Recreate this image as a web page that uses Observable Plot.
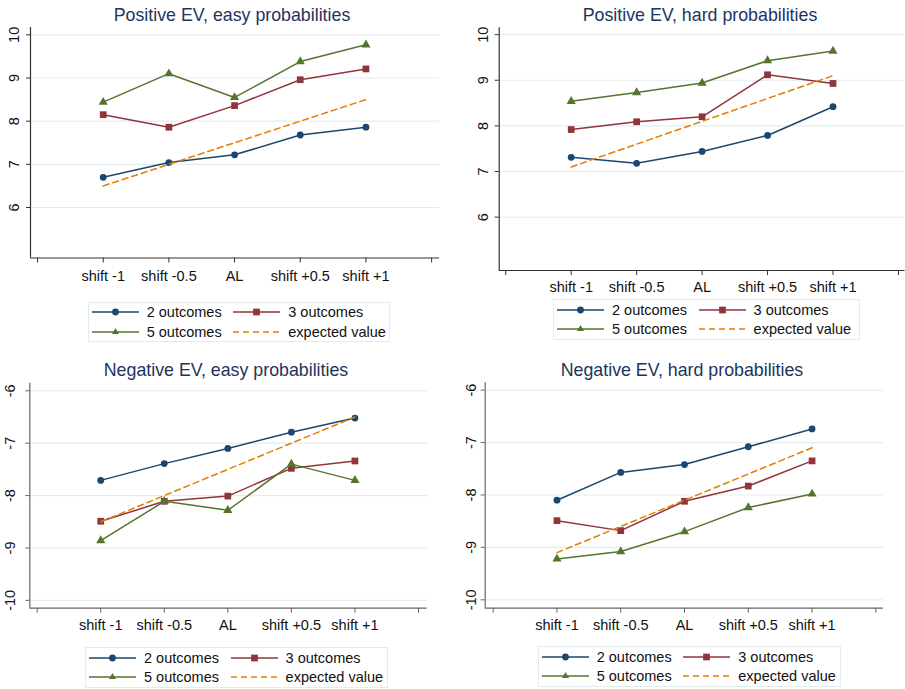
<!DOCTYPE html>
<html>
<head>
<meta charset="utf-8">
<script src="https://cdn.jsdelivr.net/npm/d3@7"></script>
<script src="https://cdn.jsdelivr.net/npm/@observablehq/plot@0.6"></script>
<style>
  html, body { margin: 0; padding: 0; background: #fff; }
  #chart { position: relative; width: 905px; height: 689px; background: #fff; font-family: "Liberation Sans", Arial, Helvetica, sans-serif; overflow: hidden; }
  .title { position: absolute; transform: translate(-50%, -50%); white-space: nowrap; font-size: 17.8px; color: #1c355e; }
  .legend { position: absolute; box-sizing: border-box; border: 1px solid #e3ecee; display: grid; grid-template-columns: 47px max-content 58.6px max-content; justify-content: start; align-items: center; padding: 0 3px; font-size: 14.5px; color: #111; }
  .legend svg { display: block; justify-self: end; }
  .legend .lbl { margin-left: 8px; white-space: nowrap; line-height: 18px; }
  .panel { position: absolute; }
  .panel svg { overflow: visible; }
</style>
</head>
<body>
<div id="chart"></div>
<script>
// ---------------- data ----------------
const categories = ["shift -1", "shift -0.5", "AL", "shift +0.5", "shift +1"];
const seriesNames = ["2 outcomes", "3 outcomes", "5 outcomes", "expected value"];
const panelTitles = ["Positive EV, easy probabilities", "Positive EV, hard probabilities",
                     "Negative EV, easy probabilities", "Negative EV, hard probabilities"];

const posEasy2  = [6.70, 7.04, 7.22, 7.68, 7.86];
const posEasy3  = [8.15, 7.86, 8.36, 8.96, 9.21];
const posEasy5  = [8.44, 9.10, 8.55, 9.38, 9.77];
const posEasyEV = [6.5, 7.0, 7.5, 8.0, 8.5];

const posHard2  = [7.31, 7.18, 7.44, 7.79, 8.42];
const posHard3  = [7.92, 8.09, 8.20, 9.12, 8.93];
const posHard5  = [8.54, 8.73, 8.94, 9.43, 9.64];
const posHardEV = [7.1, 7.6, 8.1, 8.6, 9.1];

const negEasy2  = [-7.71, -7.39, -7.10, -6.79, -6.52];
const negEasy3  = [-8.49, -8.11, -8.01, -7.48, -7.34];
const negEasy5  = [-8.86, -8.11, -8.28, -7.40, -7.71];
const negEasyEV = [-8.5, -8.0, -7.5, -7.0, -6.5];

const negHard2  = [-8.10, -7.57, -7.42, -7.08, -6.74];
const negHard3  = [-8.49, -8.68, -8.12, -7.83, -7.35];
const negHard5  = [-9.22, -9.08, -8.70, -8.24, -7.98];
const negHardEV = [-9.1, -8.6, -8.1, -7.6, -7.1];

const posTicks = [6, 7, 8, 9, 10];
const negTicks = [-10, -9, -8, -7, -6];

// ---------------- style ----------------
const colors = ["#1a476f", "#90353b", "#55752f", "#e37e00"];
const symbols = ["circle", "square", "triangle"];
const symbolR = [3.4, 3.8, 3.4];
const gridColor = "#e3edf0";
const font = '"Liberation Sans", Arial, Helvetica, sans-serif';

const panels = [
  { title: panelTitles[0], series: [posEasy2, posEasy3, posEasy5, posEasyEV], ticks: posTicks,
    left: 0, top: 0, width: 452, height: 300, mL: 30, mR: 13, mT: 27, mB: 42.5,
    xDom: [-0.107, 6.12], yDom: [4.83, 10.17], ylab: -16, xlab: 18.5, axis: "#333",
    titleX: 232, titleY: 14.5, legX: 87.7, legY: 301.7, legW: 302.3, legH: 40.6 },
  { title: panelTitles[1], series: [posHard2, posHard3, posHard5, posHardEV], ticks: posTicks,
    left: 452, top: 0, width: 453, height: 300, mL: 46.7, mR: 0.5, mT: 27.3, mB: 30,
    xDom: [-0.10, 6.10], yDom: [4.83, 10.15], ylab: -15.4, xlab: 17, axis: "#333",
    titleX: 700, titleY: 14.5, legX: 553, legY: 299, legW: 307, legH: 41 },
  { title: panelTitles[2], series: [negEasy2, negEasy3, negEasy5, negEasyEV], ticks: negTicks,
    left: 0, top: 350, width: 452, height: 290, mL: 29.3, mR: 25.3, mT: 32.7, mB: 32.3,
    xDom: [-0.116, 6.137], yDom: [-10.15, -5.855], ylab: -19.5, xlab: 17.3, axis: "#666",
    titleX: 226, titleY: 370, legX: 85, legY: 646.7, legW: 303, legH: 41.6 },
  { title: panelTitles[3], series: [negHard2, negHard3, negHard5, negHardEV], ticks: negTicks,
    left: 452, top: 350, width: 453, height: 290, mL: 32.7, mR: 22, mT: 32.3, mB: 32.3,
    xDom: [-0.125, 6.12], yDom: [-10.16, -5.86], ylab: -13.5, xlab: 17.5, axis: "#666",
    titleX: 682, titleY: 370, legX: 537.7, legY: 646, legW: 303, legH: 41.3 }
];

const chart = document.getElementById("chart");

function toRows(values) {
  return values.map((v, i) => ({ x: i + 1, y: v, cat: categories[i] }));
}

function makePanel(p) {
  const marks = [
    Plot.gridY(p.ticks, { stroke: gridColor, strokeOpacity: 1, strokeWidth: 1.2 }),
    Plot.ruleX([p.xDom[0]], { stroke: p.axis, strokeWidth: 1.2 }),
    Plot.ruleY([p.yDom[0]], { stroke: p.axis, strokeWidth: 1.2 }),
    Plot.axisY(p.ticks, { tickSize: 4, tickFormat: () => "", stroke: p.axis, label: null }),
    Plot.text(p.ticks, { y: d => d, text: d => String(d), frameAnchor: "left", dx: p.ylab,
      rotate: -90, textAnchor: "middle", lineAnchor: "middle", fontSize: 14.5, fill: "#111" }),
    Plot.axisX([0, 1, 2, 3, 4, 5, 6], { tickSize: 5, tickFormat: () => "", stroke: p.axis, label: null }),
    Plot.text(categories, { x: (d, i) => i + 1, text: d => d, frameAnchor: "bottom", dy: p.xlab,
      lineAnchor: "middle", textAnchor: "middle", fontSize: 14.5, fill: "#111" })
  ];
  for (let s = 0; s < 3; s++) {
    const rows = toRows(p.series[s]);
    marks.push(Plot.line(rows, { x: "x", y: "y", stroke: colors[s], strokeWidth: 1.5 }));
    marks.push(Plot.dot(rows, { x: "x", y: "y", fill: colors[s], stroke: "none", symbol: symbols[s], r: symbolR[s] }));
  }
  marks.push(Plot.line(toRows(p.series[3]), { x: "x", y: "y", stroke: colors[3], strokeWidth: 1.5, strokeDasharray: "6,4" }));

  const svg = Plot.plot({
    width: p.width, height: p.height,
    marginLeft: p.mL, marginRight: p.mR, marginTop: p.mT, marginBottom: p.mB,
    x: { type: "linear", domain: p.xDom, axis: null },
    y: { type: "linear", domain: p.yDom, axis: null },
    style: { fontFamily: font, fontSize: "14.5px", background: "transparent", color: "#111", overflow: "visible" },
    marks
  });
  const wrap = document.createElement("div");
  wrap.className = "panel";
  wrap.style.left = p.left + "px";
  wrap.style.top = p.top + "px";
  wrap.appendChild(svg);
  chart.appendChild(wrap);

  const t = document.createElement("div");
  t.className = "title";
  t.textContent = p.title;
  t.style.left = p.titleX + "px";
  t.style.top = p.titleY + "px";
  chart.appendChild(t);

  const leg = document.createElement("div");
  leg.className = "legend";
  leg.style.left = p.legX + "px";
  leg.style.top = p.legY + "px";
  leg.style.width = p.legW + "px";
  leg.style.height = p.legH + "px";
  [0, 1, 2, 3].forEach((s) => {
    const sw = d3.create("svg").attr("width", 47).attr("height", 18);
    sw.append("line").attr("x1", 0).attr("x2", 47).attr("y1", 9).attr("y2", 9)
      .attr("stroke", colors[s]).attr("stroke-width", 1.5)
      .attr("stroke-dasharray", s === 3 ? "6,4" : null);
    if (s < 3) {
      const symType = [d3.symbolCircle, d3.symbolSquare, d3.symbolTriangle2][s];
      sw.append("path").attr("transform", "translate(23.5,9)")
        .attr("d", d3.symbol(symType, Math.PI * symbolR[s] * symbolR[s])())
        .attr("fill", colors[s]);
    }
    leg.appendChild(sw.node());
    const lab = document.createElement("div");
    lab.className = "lbl";
    lab.textContent = seriesNames[s];
    leg.appendChild(lab);
  });
  chart.appendChild(leg);
}

panels.forEach(makePanel);
</script>
</body>
</html>
